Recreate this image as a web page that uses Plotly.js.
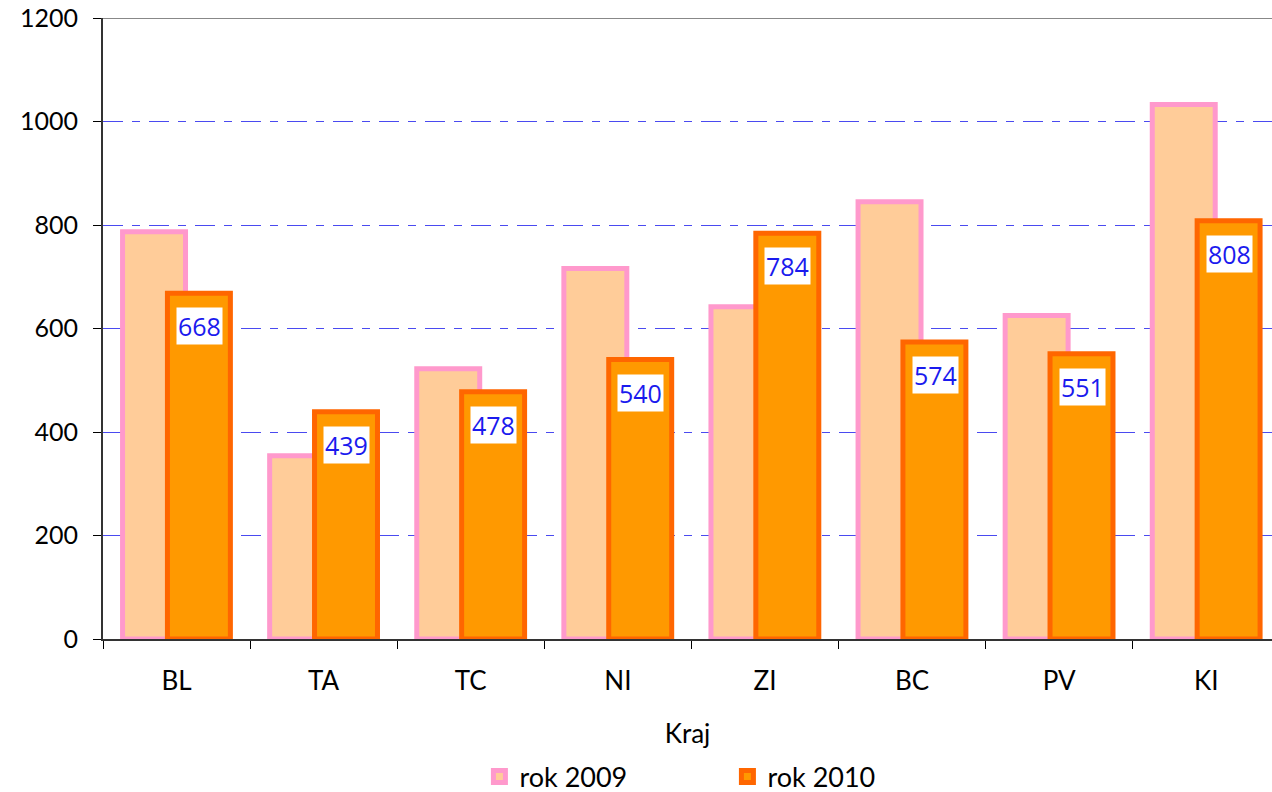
<!DOCTYPE html>
<html>
<head>
<meta charset="utf-8">
<script src="https://cdn.plot.ly/plotly-3.0.1.min.js"></script>
<style>html,body{margin:0;padding:0;background:#fff;}#chart{width:1272px;height:792px;}</style>
</head>
<body>
<div id="chart"></div>
<script>
const categories = ["BL", "TA", "TC", "NI", "ZI", "BC", "PV", "KI"];
const values2009 = [787, 354, 522, 716, 642, 845, 625, 1033];
const values2010 = [668, 439, 478, 540, 784, 574, 551, 808];
const seriesNames = ["rok 2009", "rok 2010"];
const yTickVals = [0, 200, 400, 600, 800, 1000, 1200];
const yTickText = ["0", "200", "400", "600", "800", "1000", "1200"];

const font = "Lato, 'Open Sans', sans-serif";

const trace2009 = {
  type: "bar", x: categories, y: values2009, name: seriesNames[0],
  width: 0.428, offset: -0.367,
  marker: {color: "#FFCC99", line: {color: "#FF99CC", width: 5}},
  hoverinfo: "x+y"
};
const trace2010 = {
  type: "bar", x: categories, y: values2010, name: seriesNames[1],
  width: 0.428, offset: -0.062,
  marker: {color: "#FF9900", line: {color: "#FF6600", width: 5}},
  hoverinfo: "x+y"
};

const annotations = categories.map((c, i) => ({
  x: c, y: values2010[i], xref: "x", yref: "y",
  text: String(values2010[i]), showarrow: false,
  xshift: 23, yshift: -33, yanchor: "middle",
  bgcolor: "#FFFFFF", borderpad: 1,
  font: {family: "'Open Sans', sans-serif", size: 25, color: "#1a1aee"}
}));

const layout = {
  width: 1272, height: 792,
  margin: {l: 103, r: 0, t: 18, b: 153},
  paper_bgcolor: "#FFFFFF", plot_bgcolor: "#FFFFFF",
  barmode: "overlay",
  showlegend: true,
  legend: {
    orientation: "h", xref: "paper", x: 0.322, xanchor: "left",
    yref: "container", y: 0.019, yanchor: "middle",
    entrywidth: 203, entrywidthmode: "pixels",
    font: {family: font, size: 27, color: "#000"}, traceorder: "normal"
  },
  xaxis: {
    type: "category", range: [-0.5, 7.447], automargin: false,
    tickson: "boundaries", ticks: "outside", ticklen: 8, tickcolor: "#000", tickwidth: 1,
    ticklabelstandoff: 18,
    showline: true, linecolor: "#333", linewidth: 2,
    showgrid: false, zeroline: false,
    tickfont: {family: font, size: 26, color: "#000"},
    title: {text: "Kraj", standoff: 30, font: {family: font, size: 26, color: "#000"}}
  },
  yaxis: {
    range: [0, 1200], tickvals: yTickVals, ticktext: yTickText, automargin: false,
    ticks: "outside", ticklen: 8, tickcolor: "#000", tickwidth: 1,
    ticklabelstandoff: 10,
    showline: true, linecolor: "#333", linewidth: 2,
    showgrid: true, gridcolor: "#4a4af0", gridwidth: 1, griddash: "20px,9px,8px,9px",
    zeroline: false,
    tickfont: {family: font, size: 25, color: "#000"}
  },
  annotations: annotations,
  shapes: [{type: "line", xref: "paper", yref: "y", x0: 0, x1: 1, y0: 1200, y1: 1200,
            line: {color: "#888", width: 2}, layer: "above"}]
};

Plotly.newPlot("chart", [trace2009, trace2010], layout, {displayModeBar: false, staticPlot: true});
</script>
</body>
</html>
